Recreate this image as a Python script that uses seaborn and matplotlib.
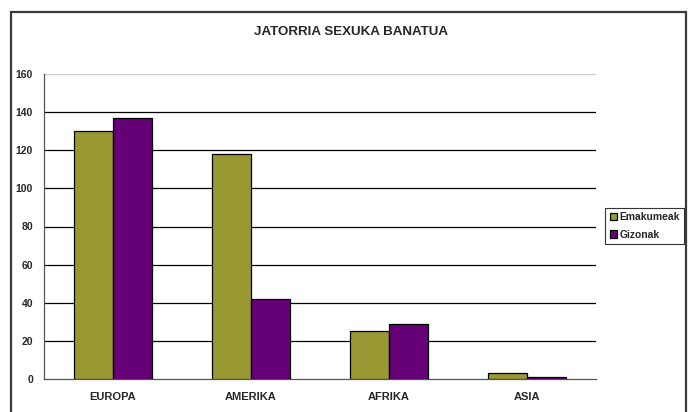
import matplotlib
matplotlib.use("Agg")
import matplotlib.pyplot as plt
import seaborn as sns
import pandas as pd
from matplotlib.patches import Rectangle

categories = ["EUROPA", "AMERIKA", "AFRIKA", "ASIA"]
emakumeak = [130, 118, 25, 3]
gizonak = [137, 42, 29, 1]
series = ["Emakumeak", "Gizonak"]

df = pd.DataFrame({
    "jatorria": categories * 2,
    "kopurua": emakumeak + gizonak,
    "sexua": [series[0]] * 4 + [series[1]] * 4,
})

sns.set_style("white")
plt.rcParams["font.family"] = ["Liberation Sans", "DejaVu Sans"]
plt.rcParams["font.weight"] = "bold"

fig = plt.figure(figsize=(6.94, 4.12), dpi=100)
# outer chart border
fig.patches.append(Rectangle((11 / 694, -0.05), (686 - 11) / 694, 1.05 - 12 / 412,
                             transform=fig.transFigure, fill=False,
                             edgecolor="#3a3a3a", linewidth=1.6))

ax = fig.add_axes([44 / 694, 1 - 379 / 412, (596 - 44) / 694, (379 - 74) / 412])
sns.barplot(data=df, x="jatorria", y="kopurua", hue="sexua",
            palette=["#999933", "#660077"], saturation=1, width=0.57,
            edgecolor="black", linewidth=0.9, ax=ax, zorder=3)

ax.set_ylim(0, 160)
ax.set_xlim(-0.5, 3.5)
ax.set_yticks(range(0, 161, 20))
for v in range(20, 161, 20):
    ax.axhline(v, color="#c8c8c8" if v == 160 else "black", linewidth=0.9, zorder=1)

ax.set_xticks([-0.5, 0.5, 1.5, 2.5, 3.5])
ax.set_xticklabels([])
ax.set_xticks(range(4), minor=True)
ax.set_xticklabels(categories, minor=True, fontsize=8, fontweight="bold")
ax.tick_params(axis="x", which="major", length=4, width=0.8, color="#555555", direction="out")
ax.tick_params(axis="x", which="minor", length=0, pad=9)
ax.tick_params(axis="y", length=4, width=0.8, color="#555555", labelsize=7.5, pad=4)
for lab in ax.get_yticklabels():
    lab.set_fontweight("bold")

for s in ["top", "right"]:
    ax.spines[s].set_visible(False)
for s in ["left", "bottom"]:
    ax.spines[s].set_color("#555555")
    ax.spines[s].set_linewidth(0.9)

ax.set_xlabel("")
ax.set_ylabel("")
fig.text(351 / 694, 1 - 32 / 412, "JATORRIA SEXUKA BANATUA", ha="center", va="center",
         fontsize=9.6, fontweight="bold")

leg = ax.legend(loc="center left", bbox_to_anchor=(605 / 694, 1 - 226 / 412),
                bbox_transform=fig.transFigure, frameon=True, fancybox=False,
                fontsize=7.4, handlelength=0.7, handleheight=0.7, handletextpad=0.25,
                borderpad=0.45, borderaxespad=0, labelspacing=0.7)
leg.get_frame().set_edgecolor("black")
leg.get_frame().set_linewidth(0.8)
for t in leg.get_texts():
    t.set_fontweight("bold")

fig.savefig("out.png", dpi=100)
